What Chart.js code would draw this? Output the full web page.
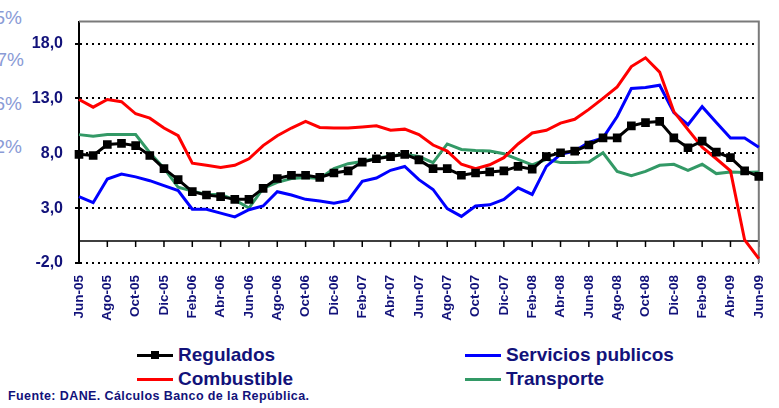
<!DOCTYPE html>
<html>
<head>
<meta charset="utf-8">
<script src="https://cdn.jsdelivr.net/npm/chart.js@4.4.0/dist/chart.umd.min.js"></script>
<style>
body { margin:0; width:779px; height:408px; background:#fff; position:relative; overflow:hidden; font-family:"Liberation Sans", Arial, sans-serif; }
#wrap { position:absolute; left:0; top:0; width:779px; height:330px; }
.ghost { position:absolute; color:#8a9bd6; font-size:19px; text-align:right; width:60px; }
.leg { position:absolute; font-weight:bold; font-size:19px; color:#12127a; white-space:nowrap; line-height:20px; }
.leg .ln { position:absolute; top:9px; height:3px; width:36px; }
.leg .mk { position:absolute; top:6px; left:14px; width:8px; height:8px; background:#000; }
#src { position:absolute; left:8px; top:389px; font-weight:bold; font-size:12.5px; letter-spacing:0.4px; color:#12127a; white-space:nowrap; }
</style>
</head>
<body>
<div class="ghost" style="left:-38px;top:7px">5%</div>
<div class="ghost" style="left:-36px;top:49px">7%</div>
<div class="ghost" style="left:-38px;top:93px">6%</div>
<div class="ghost" style="left:-38px;top:136px">2%</div>
<div id="wrap"><canvas id="myChart" width="779" height="330"></canvas></div>
<div id="legend"></div>
<div id="src">Fuente: DANE. Cálculos Banco de la República.</div>
<script>
// meses jun-05 .. jun-09
var categories = ['Jun-05','Jul-05','Ago-05','Sep-05','Oct-05','Nov-05','Dic-05',
	'Ene-06','Feb-06','Mar-06','Abr-06','May-06','Jun-06','Jul-06','Ago-06','Sep-06','Oct-06','Nov-06','Dic-06',
	'Ene-07','Feb-07','Mar-07','Abr-07','May-07','Jun-07','Jul-07','Ago-07','Sep-07','Oct-07','Nov-07','Dic-07',
	'Ene-08','Feb-08','Mar-08','Abr-08','May-08','Jun-08','Jul-08','Ago-08','Sep-08','Oct-08','Nov-08','Dic-08',
	'Ene-09','Feb-09','Mar-09','Abr-09','May-09','Jun-09'];

var regulados = [7.9,7.8,8.8,8.9,8.7,7.8,6.6,5.6,4.5,4.2,4.05,3.8,3.8,4.8,5.7,6.0,6.0,5.8,6.2,6.4,7.2,7.5,7.7,7.9,7.4,
	6.6,6.6,6.0,6.2,6.3,6.4,6.8,6.55,7.7,8.05,8.2,8.75,9.4,9.4,10.5,10.8,10.9,9.4,8.5,9.1,8.1,7.6,6.4,5.9];
var servicios = [4.05,3.5,5.65,6.1,5.85,5.5,5.05,4.6,2.9,2.9,2.55,2.2,2.85,3.2,4.5,4.2,3.8,3.65,3.45,3.7,5.45,5.75,6.45,6.8,5.6,
	4.7,2.95,2.25,3.2,3.3,3.8,4.85,4.25,6.8,7.9,8.2,9.0,9.4,11.35,13.9,14.0,14.2,11.7,10.6,12.25,10.8,9.4,9.4,8.55];
var combustible = [12.9,12.2,12.9,12.7,11.6,11.2,10.3,9.6,7.1,6.9,6.7,6.9,7.5,8.7,9.6,10.3,10.9,10.35,10.3,10.3,10.4,10.5,10.1,10.2,9.7,
	8.75,8.2,7.0,6.6,6.95,7.6,8.85,9.85,10.1,10.75,11.1,12.0,13.0,14.05,15.9,16.7,15.4,11.8,10.15,8.55,7.5,6.4,0.1,-1.6];
var transporte = [9.7,9.55,9.7,9.7,9.7,8.05,6.65,4.9,4.55,4.25,4.25,3.75,3.0,4.8,5.35,5.7,5.8,5.7,6.6,7.05,7.25,7.55,7.75,7.9,7.7,
	7.15,8.85,8.35,8.25,8.2,7.95,7.45,6.95,7.45,7.15,7.15,7.2,8.05,6.35,5.95,6.35,6.9,7.0,6.45,7.0,6.15,6.3,6.25,6.3];

var yTicks = [-2, 3, 8, 13, 18];
var navy = '#12127a';

var series = [
	{name:'Regulados', data:regulados, color:'#000000', marker:true, order:0, lx:137, ly:345},
	{name:'Servicios publicos', data:servicios, color:'#0000ff', marker:false, order:2, lx:465, ly:345},
	{name:'Combustible', data:combustible, color:'#ff0000', marker:false, order:1, lx:137, ly:369},
	{name:'Transporte', data:transporte, color:'#339966', marker:false, order:3, lx:465, ly:369}
];

// leyenda
var legendHtml = '';
for (var i = 0; i < series.length; i++) {
	var s = series[i];
	legendHtml += '<div class="leg" style="left:' + s.lx + 'px;top:' + s.ly + 'px;padding-left:41px">'
		+ '<span class="ln" style="left:0;background:' + s.color + '"></span>'
		+ (s.marker ? '<span class="mk"></span>' : '')
		+ s.name + '</div>';
}
document.getElementById('legend').innerHTML = legendHtml;

// linea cero, marcas del eje x y marco
var framePlugin = {
	id: 'frame',
	beforeDatasetsDraw: function(chart) {
		var c = chart.ctx, a = chart.chartArea;
		var y0 = chart.scales.y.getPixelForValue(0);
		c.save();
		c.strokeStyle = '#000';
		c.lineWidth = 1.5;
		c.beginPath();
		c.moveTo(a.left, y0); c.lineTo(a.right, y0);
		for (var i = 0; i < categories.length; i += 2) {
			var x = chart.scales.x.getPixelForValue(i);
			c.moveTo(x, y0); c.lineTo(x, y0 + 6);
		}
		c.stroke();
		c.strokeStyle = '#7a7a7a';
		c.lineWidth = 2;
		c.beginPath();
		c.moveTo(a.left, a.top); c.lineTo(a.right, a.top); c.lineTo(a.right, a.bottom);
		c.stroke();
		c.restore();
	}
};

var myChart;
var ctx = document.getElementById('myChart').getContext('2d');

myChart = new Chart(ctx, {
	type: 'line',
	data: {
		labels: categories,
		datasets: series.map(function(s) {
			return {
				label: s.name,
				data: s.data,
				borderColor: s.color,
				backgroundColor: s.color,
				borderWidth: 3,
				pointRadius: s.marker ? 4 : 0,
				pointStyle: 'rect',
				tension: 0,
				order: s.order
			};
		})
	},
	options: {
		responsive: false,
		animation: false,
		layout: { padding: { top: 11, right: 13, left: 0, bottom: 0 } },
		plugins: { legend: { display: false }, tooltip: { enabled: false } },
		scales: {
			x: {
				grid: { display: false },
				border: { display: false },
				ticks: {
					autoSkip: false, maxRotation: 90, minRotation: 90, padding: 4,
					color: navy, font: { family: '"Liberation Sans", Arial', size: 13.5, weight: 'bold' },
					callback: function(v, i) { return i % 2 == 0 ? categories[i] : ''; }
				},
				afterFit: function(s) { s.height = 67; }
			},
			y: {
				min: -2, max: 20,
				afterBuildTicks: function(ax) { ax.ticks = yTicks.map(function(v) { return {value: v}; }); },
				grid: { color: '#000', lineWidth: 2, tickLength: 4 },
				border: { display: true, color: '#000', width: 2, dash: [2, 4] },
				ticks: {
					padding: 12, color: navy, font: { family: '"Liberation Sans", Arial', size: 16, weight: 'bold' },
					callback: function(v) { return v.toFixed(1).replace('.', ','); }
				},
				afterFit: function(s) { s.width = 79; }
			}
		}
	},
	plugins: [framePlugin]
});
</script>
</body>
</html>
